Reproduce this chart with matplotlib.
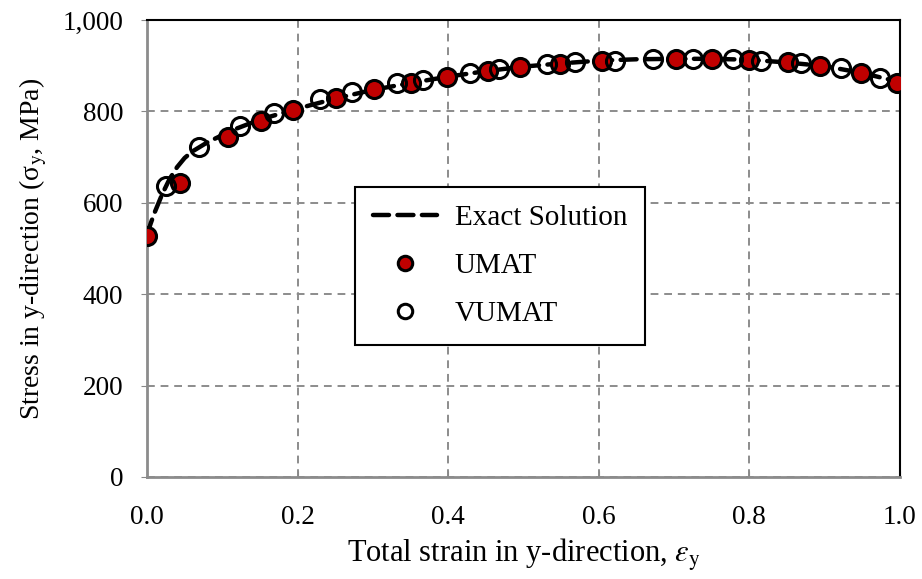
import numpy as np
import matplotlib
matplotlib.use("Agg")
from matplotlib import pyplot as plt
from matplotlib.ticker import FuncFormatter

# exact solution curve
exact_strain = [0, 0.005, 0.01, 0.015, 0.02, 0.03, 0.04, 0.05, 0.06, 0.07, 0.08, 0.1,
                0.12, 0.15, 0.2, 0.25, 0.3, 0.35, 0.4, 0.45, 0.5, 0.55, 0.6, 0.65,
                0.7, 0.75, 0.8, 0.85, 0.9, 0.95, 1.0]
exact_stress = [530, 555, 578, 598, 618, 652, 678, 698, 712, 722, 732, 748,
                763, 782, 806, 828, 847, 862, 876, 888, 898, 905, 911, 914,
                915, 915, 913, 907, 899, 884, 864]

# UMAT results
umat_strain = [0.0, 0.044, 0.107, 0.152, 0.194, 0.251, 0.302, 0.351, 0.398, 0.453,
               0.496, 0.548, 0.604, 0.703, 0.751, 0.799, 0.852, 0.894, 0.949, 0.996]
umat_stress = [528, 644, 745, 779, 804, 829, 848, 863, 876, 889,
               898, 903, 910, 914, 915, 912, 907, 899, 883, 863]

# VUMAT results
vumat_strain = [0.025, 0.069, 0.124, 0.169, 0.230, 0.272, 0.332, 0.367, 0.429, 0.468,
                0.531, 0.569, 0.621, 0.672, 0.725, 0.779, 0.816, 0.869, 0.922, 0.973]
vumat_stress = [637, 721, 769, 797, 826, 843, 861, 869, 885, 893,
                904, 907, 910, 914, 914, 915, 911, 905, 894, 874]

plt.rcParams['font.family'] = ['Liberation Serif', 'DejaVu Serif']
plt.rcParams['mathtext.fontset'] = 'stix'
plt.rcParams['font.size'] = 20

fig = plt.figure(figsize=(9.22, 5.79), dpi=100)
ax = fig.add_axes([0.1594, 0.1762, 0.8166, 0.7893])

ax.plot(exact_strain, exact_stress, color='black', lw=3.2, ls=(0, (3.6, 1.9)),
        dash_capstyle='round', label='Exact Solution', zorder=3)
ax.plot(umat_strain, umat_stress, 'o', ms=13, mfc='#C00000', mec='black', mew=2.2,
        label='UMAT', zorder=4)
ax.plot(vumat_strain, vumat_stress, 'o', ms=13, mfc='none', mec='black', mew=2.2,
        label='VUMAT', zorder=5)

ax.set_xlim(0, 1.0)
ax.set_ylim(0, 1000)
ax.set_xticks(np.arange(0, 1.01, 0.2))
ax.set_yticks(np.arange(0, 1001, 200))
ax.xaxis.set_major_formatter(FuncFormatter(lambda v, p: f"{v:.1f}"))
ax.yaxis.set_major_formatter(FuncFormatter(lambda v, p: f"{v:,.0f}"))
ax.tick_params(axis='x', direction='in', length=4, color='#888888', pad=20, labelsize=19.5)
ax.tick_params(axis='y', direction='out', length=4, color='#888888', pad=13, labelsize=19.5)

ax.grid(True, color='#8c8c8c', ls=(0, (4, 3)), lw=1.4)
ax.set_axisbelow(True)
for side in ['left', 'bottom']:
    ax.spines[side].set_color('#8c8c8c')
    ax.spines[side].set_linewidth(2)
for side in ['top', 'right']:
    ax.spines[side].set_color('black')
    ax.spines[side].set_linewidth(1.5)

ax.set_xlabel(r"Total strain in y-direction, $\epsilon_\mathrm{y}$", fontsize=22, labelpad=5)
ax.set_ylabel(r"Stress in y-direction (σ$_\mathrm{y}$, MPa)", fontsize=20, labelpad=10)

leg = ax.legend(loc='center', bbox_to_anchor=(0.469, 0.462), frameon=True, fancybox=False,
                edgecolor='black', fontsize=21, handlelength=2.2, borderpad=0.6,
                labelspacing=0.75, handletextpad=0.6, borderaxespad=0, markerscale=0.8)
leg.get_frame().set_linewidth(1.5)
leg.get_frame().set_alpha(1)

plt.savefig("out.png", dpi=100)
